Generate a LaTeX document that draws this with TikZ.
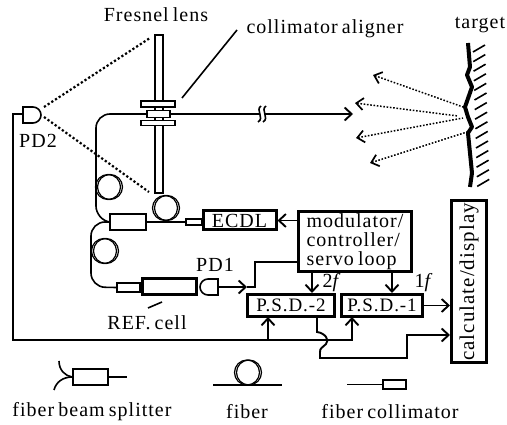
\documentclass[tikz,border=0pt]{standalone}
\usepackage{fontspec}
\setmainfont[LetterSpace=5,WordSpace=0.7]{Liberation Serif}
\usetikzlibrary{arrows.meta}
\tikzset{
  lbl/.style={inner sep=0pt, font=\fontsize{20}{18}\selectfont},
  thinbox/.style={draw, line width=1.6pt, inner sep=0pt, fill=white},
  boldbox/.style={draw, line width=3pt, inner sep=0pt, fill=white},
  fibre/.style={line width=1.6pt},
  wire/.style={line width=1.9pt},
  tip/.style={-{Straight Barb[length=7pt,width=13pt,line width=1.9pt]}},
  rays/.style={line width=1.5pt, dash pattern=on 1.6pt off 1.7pt},
  raytip/.style={rays, {Straight Barb[length=7pt,width=12pt,line width=1.7pt]}-}
}
\begin{document}
\begin{tikzpicture}[x=1pt, y=-1pt]
  \useasboundingbox (0,0) rectangle (507,425);
  % labels
  \node[lbl] (fresnellab) at (156,15) {Fresnel lens};
  \node[lbl] (alignlab) at (325,29) {collimator aligner};
  \node[lbl] (targetlab) at (480,25) {target};
  \node[lbl] (pdtwolab) at (38,141) {PD2};
  \node[lbl] (pdonelab) at (215,265) {PD1};
  \node[lbl] (reflab) at (147,323) {REF. cell};
  \node[lbl] (splitlab) at (92,412) {fiber beam splitter};
  \node[lbl] (fiberlab) at (247,412) {fiber};
  \node[lbl] (colllab) at (390,412) {fiber collimator};
  \node[lbl] (twof) at (332,283) {2\textit{f}};
  \node[lbl] (onef) at (424,283) {1\textit{f}};
  % fresnel lens and aligner
  \node[thinbox, minimum width=8pt, minimum height=158pt] (lens) at (159,114) {};
  \node[thinbox, minimum width=34pt, minimum height=6pt] (aligntop) at (158,104) {};
  \node[thinbox, minimum width=34pt, minimum height=5pt] (alignbot) at (158,123) {};
  \node[thinbox, minimum width=23pt, minimum height=7pt] (alignmid) at (158.5,114) {};
  \coordinate (alignfoot) at (182,98);
  \coordinate (alignhead) at (237,30);
  \draw[fibre] (alignfoot) -- (alignhead);
  % optical parts
  \node[thinbox, minimum width=36pt, minimum height=16pt] (split) at (128,222) {};
  \node[thinbox, minimum width=16pt, minimum height=6pt] (coll) at (194,222) {};
  \node[boldbox, minimum width=73pt, minimum height=19pt, font=\fontsize{20}{18}\selectfont] (ecdl) at (239.5,220.5) {ECDL};
  \node[thinbox, minimum width=23pt, minimum height=9pt] (refcoll) at (128.5,287.5) {};
  \node[boldbox, line width=2.4pt, minimum width=54pt, minimum height=16pt] (refcell) at (169.5,286.5) {};
  \coordinate (refmarka) at (148,308);
  \coordinate (refmarkb) at (162,302);
  \draw[fibre] (refmarka) -- (refmarkb);
  % electronics
  \node[boldbox, minimum width=113pt, minimum height=60pt, align=left, font=\fontsize{20}{19}\selectfont] (modul) at (355,241.5) {modulator/\\controller/\\servo loop};
  \node[boldbox, minimum width=87pt, minimum height=22pt, font=\fontsize{19}{19}\selectfont] (psdtwo) at (291,305.5) {P.S.D.-2};
  \node[boldbox, minimum width=81pt, minimum height=22pt, font=\fontsize{19}{19}\selectfont] (psdone) at (382,305.5) {P.S.D.-1};
  \node[boldbox, minimum width=35pt, minimum height=162pt] (calc) at (469,281.5) {};
  \node[lbl, rotate=90, font=\fontsize{21}{21}\selectfont] (calclab) at (469,282) {calculate/display};
  % photodiodes
  \draw[fibre] (23,107) -- (33,107) arc[start angle=-90, end angle=90, radius=8] -- (23,123) -- cycle;
  \coordinate (pdtwo) at (23,114);
  \draw[fibre] (218,279) -- (208,279) arc[start angle=-90, end angle=-270, radius=8] -- (218,295) -- cycle;
  \coordinate (pdone) at (218,287);
  % coils
  \foreach \cx/\cy in {108/187, 165/208, 104/251}
    { \draw[line width=1.2pt] (\cx,\cy) circle (12.5); \draw[line width=1.2pt] (\cx+2,\cy) circle (12.5); }
  % fibres
  \draw[fibre, rounded corners=14pt] (alignmid.west) -- (96,114) -- (96,220) -- (split.west);
  \draw[fibre, rounded corners=14pt] (split.west) -- (91,222) -- (91,287) -- (refcoll.west);
  \draw[fibre] (split.east) -- (coll.west);
  \draw[fibre] (coll.east) -- (ecdl.west);
  % beam and target
  \coordinate (brkl) at (259,114);
  \coordinate (brkr) at (264,114);
  \coordinate (beamend) at (353,114);
  \draw[wire, line width=2.2pt] (alignmid.east) -- (brkl);
  \draw[wire, line width=2.2pt, tip] (brkr) -- (beamend);
  \draw[fibre] (261,106) .. controls (255,110) and (265,118) .. (258,122);
  \draw[fibre] (266,106) .. controls (260,110) and (270,118) .. (263,122);
  \draw[line width=4pt, line join=round] (468,43) -- (470,67) -- (467,75) -- (472,87) -- (465,107) -- (468,117) -- (472,127) -- (468,133) -- (472,173) -- (470,187);
  \foreach \i in {0,...,14}
    { \draw[fibre] ({473+\i*0.3},{52+\i*9.6}) -- ++(12,-7); }
  \foreach \tx/\ty/\sx/\sy in {373/75/463/107, 355/103/458/116, 356/138/463/118, 370/163/467/132}
    { \draw[raytip] (\tx,\ty) -- (\sx,\sy); }
  \coordinate (lensa) at (44,107);
  \coordinate (lensb) at (150,38);
  \coordinate (lensc) at (44,117);
  \coordinate (lensd) at (149,192);
  \draw[rays, line width=2.2pt, dash pattern=on 2.2pt off 2.2pt] (lensa) -- (lensb);
  \draw[rays, line width=2.2pt, dash pattern=on 2.2pt off 2.2pt] (lensc) -- (lensd);
  % signal lines
  \coordinate (sigtwo) at (268,317);
  \coordinate (sigone) at (352,317);
  \coordinate (twoout) at (317,317);
  \coordinate (modtwo) at (312,272);
  \coordinate (modone) at (392,272);
  \coordinate (calcin) at (450,335);
  \coordinate (pdtwodown) at (13,340);
  \coordinate (busone) at (352,340);
  \coordinate (bustwo) at (268,340);
  \draw[wire, tip] (pdtwo) -- (13,114) -- (pdtwodown) -- (busone) -- (sigone);
  \draw[wire, tip] (bustwo) -- (sigtwo);
  \draw[wire, tip] (modul.west |- ecdl.east) -- (ecdl.east);
  \draw[wire, tip] (modtwo) -- (modtwo |- psdtwo.north);
  \draw[wire, tip] (modone) -- (modone |- psdone.north);
  \draw[wire, tip] (psdone.east) -- (psdone.east -| calc.west);
  \draw[wire, tip] (pdone) -- (247,287);
  \draw[wire] (247,287) -- (255,287) -- (255,262) -- (modul.west |- 0,262);
  \draw[wire, tip] (twoout) -- (317,332) .. controls (325,333) and (330,340) .. (326,344) .. controls (322,348) and (320,348) .. (320,352) -- (320,358) -- (407,358) -- (407,335) -- (calcin);
  % legend
  \node[thinbox, minimum width=35pt, minimum height=16pt] (legsplit) at (90.5,377) {};
  \coordinate (legout) at (127,377);
  \coordinate (lega) at (59,361);
  \coordinate (legb) at (54,390);
  \draw[fibre] (legsplit.east) -- (legout);
  \draw[fibre] (lega) .. controls (59,370) and (65,376) .. (legsplit.west);
  \draw[fibre] (legb) .. controls (56,382) and (63,377) .. (legsplit.west);
  \coordinate (legfibl) at (213,385);
  \coordinate (legfibr) at (282,385);
  \draw[fibre] (legfibl) -- (legfibr);
  \draw[line width=1.2pt] (247,372.5) circle (12.5);
  \draw[line width=1.2pt] (249,372.5) circle (12.5);
  \node[thinbox, minimum width=23pt, minimum height=9pt] (legcoll) at (394.5,384.5) {};
  \coordinate (legcolla) at (347,384.5);
  \draw[fibre] (legcolla) -- (legcoll.west);
\end{tikzpicture}
\end{document}
